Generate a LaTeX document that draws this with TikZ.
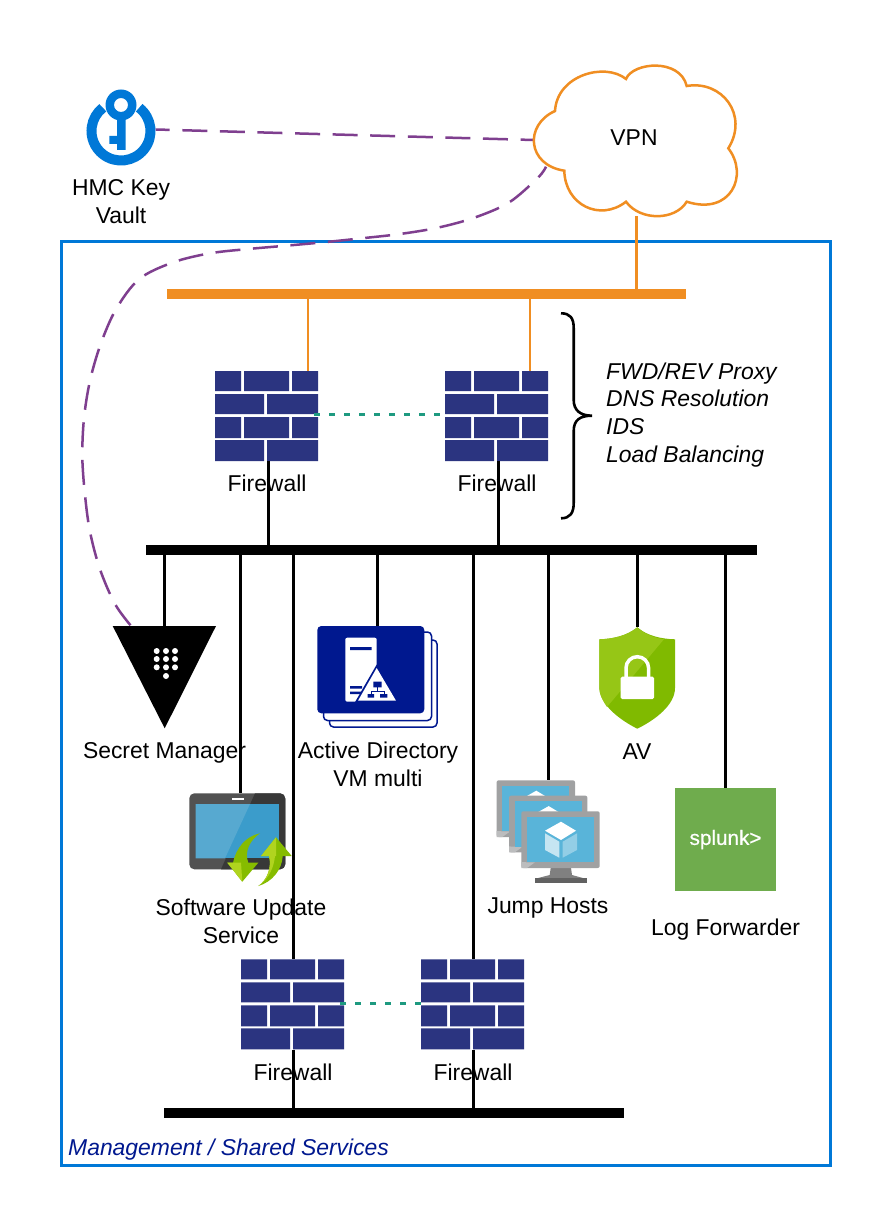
\documentclass[tikz,border=0pt]{standalone}
\usepackage{fontspec}
\setmainfont{Liberation Sans}
\newfontfamily\splfont[FakeBold=0.7]{Liberation Sans}
\definecolor{oran}{HTML}{F08E22}
\definecolor{frameblue}{HTML}{0078D7}
\definecolor{purp}{HTML}{7F3F8F}
\definecolor{teal2}{HTML}{1E9A80}
\definecolor{brick}{HTML}{2B3480}
\definecolor{navy}{HTML}{00188F}
\definecolor{scr}{HTML}{59B4D9}
\definecolor{mon}{HTML}{A0A1A2}
\definecolor{shieldd}{RGB}{128,186,0}
\definecolor{shieldl}{RGB}{150,198,22}
\definecolor{tabd}{RGB}{59,156,203}
\definecolor{tabl}{RGB}{87,169,208}
\definecolor{arrd}{RGB}{134,188,0}
\definecolor{arrl}{RGB}{176,212,31}
\definecolor{splg}{RGB}{111,172,77}
\tikzset{
  lbl/.style={font=\fontsize{22.9}{28}\selectfont,align=center,inner sep=0pt,text=black},
  one/.style={text height=16.4pt,text depth=0pt},
  ital/.style={font=\fontsize{22.9}{28}\selectfont\itshape,anchor=west,inner sep=0pt,text height=16.4pt,text depth=0pt},
  bus/.style={fill=#1,inner sep=0pt,minimum height=10pt},
  conn/.style={black,line width=3pt},
  thinor/.style={oran,line width=1.5pt},
  thickor/.style={oran,line width=3pt},
  vpnlink/.style={purp,line width=2.5pt},
  ha/.style={teal2,line width=3pt,dash pattern=on 6pt off 9pt},
  fwbox/.style={inner sep=0pt,minimum width=103pt,minimum height=90pt,
    path picture={\fill[brick]
      (path picture bounding box.north west)
      ++(0,0) rectangle ++(26,20) ++(3,-20) rectangle ++(45,20) ++(3,-20) rectangle ++(26,20)
      ([yshift=-23pt]path picture bounding box.north west)
      ++(0,0) rectangle ++(49,20) ++(3,-20) rectangle ++(51,20)
      ([yshift=-46pt]path picture bounding box.north west)
      ++(0,0) rectangle ++(26,21) ++(3,-21) rectangle ++(45,21) ++(3,-21) rectangle ++(26,21)
      ([yshift=-69pt]path picture bounding box.north west)
      ++(0,0) rectangle ++(49,21) ++(3,-21) rectangle ++(51,21);}},
}
\newcommand{\vmonitor}[2]{%
  \begin{scope}[shift={(#1,#2)}]
    \fill[mon,rounded corners=2pt] (521.3,811.3) rectangle (599.7,868);
    \fill[white!30!mon] (521.3,868) -- (521.3,862) -- (527,862.3) -- (535,862.3) -- (527,868) -- cycle;
    \fill[scr] (527,817) rectangle (594,862.3);
    \fill[white] (545,830.7) -- (561,821.7) -- (576,830.7) -- (561,840) -- cycle;
    \fill[white!65!scr] (545,833.3) -- (559.3,841.7) -- (559.3,857.7) -- (545,850) -- cycle;
    \fill[white!35!scr] (562.7,841.7) -- (577,833.3) -- (577,850) -- (562.7,857.7) -- cycle;
  \end{scope}}
\begin{document}
\begin{tikzpicture}[x=1pt,y=-1pt]
\useasboundingbox (0,0) rectangle (890,1230);
\fill[white] (0,0) rectangle (890,1230);

% frame
\node[draw=frameblue,line width=3pt,inner sep=0pt,minimum width=769pt,minimum height=923pt,anchor=north west] (frame) at (59.5,240.5) {};
\node[ital,text=navy] (mgmt) at (68,1147) {Management / Shared Services};

% buses
\node[bus=oran,minimum width=519pt] (obus) at (426.5,294) {};
\node[bus=black,minimum width=611pt] (kbus) at (451.5,550) {};
\node[bus=black,minimum width=460pt] (bbus) at (394,1113) {};

% firewalls
\node[fwbox] (fw1) at (266.5,416) {};
\node[fwbox] (fw2) at (496.5,416) {};
\node[fwbox] (fw3) at (292.5,1004.3) {};
\node[fwbox] (fw4) at (472.5,1004.3) {};

% anchors for the icons
\node[inner sep=0pt,minimum width=200pt,minimum height=156pt] (vpn) at (634,138) {};
\node[inner sep=0pt,minimum width=69pt,minimum height=74pt] (kv) at (121,128) {};
\node[inner sep=0pt,minimum width=103pt,minimum height=102pt] (sm) at (164.5,677) {};

% VPN links
\draw[vpnlink,dash pattern=on 25pt off 12.6pt,dash phase=11pt] (kv.east |- 0,129.5) -- (533.5,140);
\draw[vpnlink,dash pattern=on 25pt off 12.6pt,dash phase=12pt] plot[smooth,tension=0.55] coordinates {
  (546,166.7) (538.3,177.3) (509.3,202.3) (474.3,217.7) (437.7,227.7) (400,234)
  (361.7,238.3) (323.3,242.3) (286,245.7) (248.3,249) (210,253.3) (173.3,262.3)
  (139.3,279) (116,309.3) (100.7,344) (90,380.7) (84,418.3) (82.3,456.7) (85,495)
  (90,531.7) (100,569.3) (115,604) (131.7,626.7)};

% cloud
\draw[oran,line width=2.5pt,fill=white] (626,79)
  .. controls (633,62) and (680,58) .. (686.7,86)
  .. controls (722,80) and (749,115) .. (728.3,148.3)
  .. controls (749,175) and (731,216) .. (686.7,201.7)
  .. controls (675,221) and (640,221) .. (626,201.7)
  .. controls (600,222) and (565,205) .. (564.3,170.7)
  .. controls (527,165) and (524,125) .. (555,111)
  .. controls (557,75) and (605,62) .. (626,79) -- cycle;
\node[lbl,one] (vpnt) at (634,137.5) {VPN};

% key vault icon
\draw[frameblue,line width=10pt] (121,131) ++(-52:29.5) arc[start angle=-52,end angle=232,radius=29.5];
\fill[frameblue,even odd rule] (121,105) circle[radius=15.5] (121,105) circle[radius=7];
\fill[frameblue] (117,118) rectangle (125.7,150) (109.3,136) rectangle (117,144);
\node[lbl] (kvl) at (121,202) {HMC Key\\Vault};

% vault triangle
\fill[black] (112.7,626) -- (216,626) -- (164.7,728.3) -- cycle;
\foreach \x in {156.7,166,175} \foreach \y in {651,659,667.3} \fill[white] (\x,\y) circle[radius=3];
\fill[white] (166,676) circle[radius=3];
\node[lbl,one] (sml) at (164.5,750) {Secret Manager};

% AD icon
\node[inner sep=0pt,minimum width=120pt,minimum height=101pt] (ad) at (377.5,677) {};
\draw[navy,line width=1.5pt,fill=white,rounded corners=4pt] (329.5,640) rectangle (437,727);
\draw[navy,line width=1.5pt,fill=white,rounded corners=4pt] (323.5,632) rectangle (431.5,720.5);
\fill[navy,rounded corners=4pt] (317.3,626) rectangle (424.3,713.3);
\fill[white,rounded corners=2pt] (345.3,637.7) rectangle (376.7,701.7);
\fill[navy] (350,647) rectangle (371.7,650) (350,686) rectangle (362,688.5) (350,691.5) rectangle (362,694);
\fill[navy] (376.7,664.5) -- (399,703) -- (354.5,703) -- cycle;
\fill[white] (376.7,668) -- (396,700.7) -- (358,700.7) -- cycle;
\fill[navy] (373.3,681.7) rectangle (381.7,687.3) (367.7,694) rectangle (374,697.7) (380,694) rectangle (387.3,697.7);
\draw[navy,line width=0.8pt] (377.5,687) -- (377.5,691) (371,694) -- (371,691) -- (384,691) -- (384,694);
\node[lbl] (adl) at (378,764) {Active Directory\\VM multi};

% shield
\node[inner sep=0pt,minimum width=76pt,minimum height=101pt] (av) at (637.3,678) {};
\fill[shieldd] (637.3,627.3) .. controls (627,636) and (612,639) .. (599.3,639.3)
  -- (599.3,688) .. controls (600,705) and (620,720) .. (637.3,728.7)
  .. controls (655,720) and (675,705) .. (675,688) -- (675,639.3)
  .. controls (662,639) and (647,636) .. (637.3,627.3) -- cycle;
\fill[shieldl] (637.3,627.3) .. controls (627,636) and (612,639) .. (599.3,639.3)
  -- (599.3,688) .. controls (599.5,695) and (603,701) .. (607,707) -- (664,639.2)
  .. controls (654,638) and (645,634) .. (637.3,627.3) -- cycle;
\fill[white,rounded corners=1.5pt] (620.7,676.7) rectangle (654,699);
\draw[white,line width=3.5pt] (626,678) -- (626,668) arc[start angle=180,end angle=360,radius=11.3] -- (648.6,678);
\node[lbl,one] (avl) at (637,751) {AV};

% tablet
\node[inner sep=0pt,minimum width=96pt,minimum height=76pt] (su) at (237.3,831.3) {};
\fill[black!68,rounded corners=5pt] (189.3,793.3) rectangle (285.3,869.3);
\fill[black!78] (255,793.3) -- (280,793.3) .. controls (283,793.3) and (285.3,796) .. (285.3,799) -- (285.3,864) .. controls (285.3,867) and (283,869.3) .. (280,869.3) -- (221,869.3) -- cycle;
\fill[white] (232,798) rectangle (244,800.2);
\fill[tabd] (195.7,804) rectangle (279.3,858.3);
\fill[tabl] (195.7,804) -- (250,804) -- (225,858.3) -- (195.7,858.3) -- cycle;
\fill[arrd] (260,833.3) .. controls (246,836) and (236,848) .. (233,862.7) -- (227.3,862.7) -- (242.3,881.7) -- (258.3,862.7) -- (248.3,862.7) .. controls (244,852) and (250,840) .. (260,833.3) -- cycle;
\fill[arrl] (242.3,881.7) -- (227.3,862.7) -- (241,862.7) -- cycle;
\fill[arrd] (258.3,886) .. controls (272,882) and (282,870) .. (282.7,856) -- (291.7,856) -- (276,837.3) -- (261,856) -- (269,856) .. controls (272,868) and (267,880) .. (258.3,886) -- cycle;
\fill[arrl] (258.3,886) .. controls (270,878) and (274,866) .. (275,856) -- (261,856) -- (276,837.3) -- (276,856) -- (269,856) .. controls (272,868) and (267,880) .. (258.3,886) -- cycle;
\node[lbl] (sul) at (241,921.5) {Software Update\\Service};

% jump hosts
\node[inner sep=0pt,minimum width=103pt,minimum height=103pt] (jh) at (548,832) {};
\vmonitor{-24.7}{-31}
\vmonitor{-12.3}{-15.6}
\fill[black!50] (550.7,868) -- (571,868) -- (572,875) -- (584,878.3) -- (537,878.3) -- (549.7,875) -- cycle;
\fill[black!62] (535,878.3) rectangle (586.7,883.3);
\vmonitor{0}{0}
\node[lbl,one] (jhl) at (548,905) {Jump Hosts};

% splunk
\node[inner sep=0pt,minimum width=101.3pt,minimum height=102.7pt,fill=splg,anchor=north west] (spl) at (674.7,788) {};
\node[inner sep=0pt,text=white,font=\fontsize{20.7}{24}\splfont] (splt) at (spl.center) {splunk>};
\node[lbl,one] (spll) at (725.5,927) {Log Forwarder};

% firewall labels
\node[lbl,one] (fl1) at (267,483) {Firewall};
\node[lbl,one] (fl2) at (497,483) {Firewall};
\node[lbl,one] (fl3) at (293,1072) {Firewall};
\node[lbl,one] (fl4) at (473,1072) {Firewall};

% connectors
\draw[thickor] (636,0 |- vpn.south) -- (636,0 |- obus.center);
\draw[thinor] (308,0 |- obus.south) -- (308,0 |- fw1.north);
\draw[thinor] (530,0 |- obus.south) -- (530,0 |- fw2.north);
\draw[conn] (268.5,0 |- fw1.south) -- (268.5,0 |- kbus.center);
\draw[conn] (498.5,0 |- fw2.south) -- (498.5,0 |- kbus.center);
\draw[conn] (164.5,0 |- kbus.center) -- (164.5,0 |- sm.north);
\draw[conn] (240.5,0 |- kbus.center) -- (240.5,0 |- su.north);
\draw[conn] (377.5,0 |- kbus.center) -- (377.5,0 |- ad.north);
\draw[conn] (637,0 |- kbus.center) -- (637,0 |- av.north);
\draw[conn] (548.5,0 |- kbus.center) -- (548.5,0 |- jh.north);
\draw[conn] (725.5,0 |- kbus.center) -- (725.5,0 |- spl.north);
\draw[conn] (293.5,0 |- kbus.center) -- (293.5,0 |- fw3.north);
\draw[conn] (473.5,0 |- kbus.center) -- (473.5,0 |- fw4.north);
\draw[conn] (293.5,0 |- fw3.south) -- (293.5,0 |- bbus.center);
\draw[conn] (473.5,0 |- fw4.south) -- (473.5,0 |- bbus.center);
\draw[ha] (fw1.east) ++(-4,-1.7) -- ([xshift=2pt]fw2.west |- 0,414.3);
\draw[ha] (fw3.east) ++(-4,-1) -- ([xshift=2pt]fw4.west |- 0,1003.3);

% brace
\node[inner sep=0pt,minimum width=31pt,minimum height=205pt] (br) at (576.5,415.5) {};
\draw[black,line width=2.6pt] (561,313.3) .. controls (570,313.3) and (573.7,318) .. (573.7,328) -- (573.7,400)
  .. controls (573.7,410) and (580,415.7) .. (592,415.7)
  .. controls (580,415.7) and (573.7,420) .. (573.7,431) -- (573.7,503)
  .. controls (573.7,513) and (570,518.3) .. (561,518.3);
\node[ital] (p1) at (606,371) {FWD/REV Proxy};
\node[ital] (p2) at (606,398.5) {DNS Resolution};
\node[ital] (p3) at (606,426) {IDS};
\node[ital] (p4) at (606,454) {Load Balancing};
\end{tikzpicture}
\end{document}
